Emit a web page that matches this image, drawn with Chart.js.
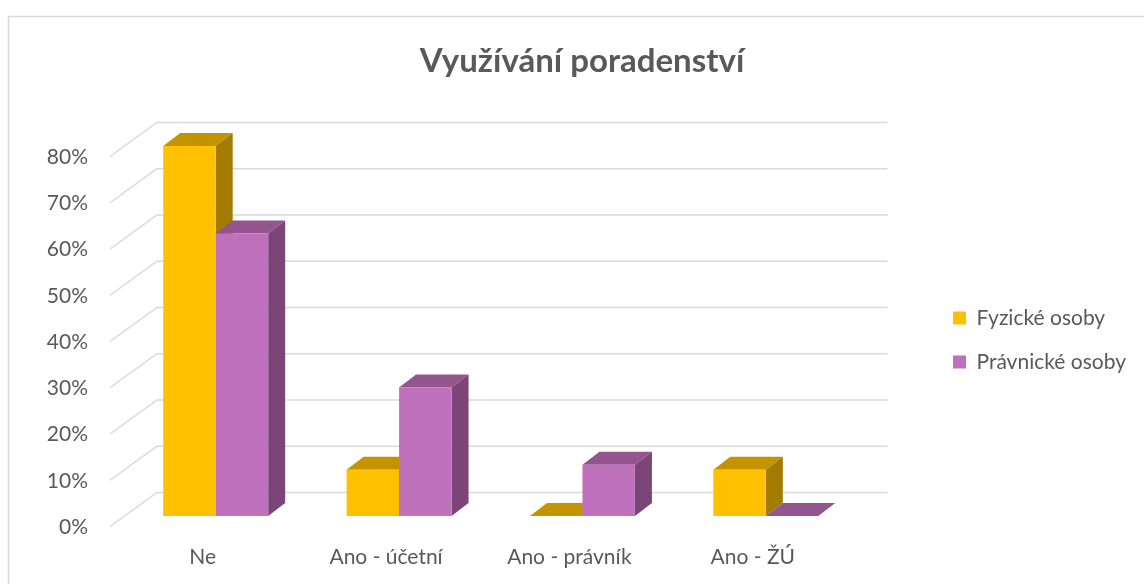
<!DOCTYPE html>
<html>
<head>
<meta charset="utf-8">
<script src="https://cdn.jsdelivr.net/npm/chart.js@4.4.0/dist/chart.umd.min.js"></script>
<style>
    html, body { margin: 0; padding: 0; background: #fff; }
</style>
</head>
<body>
<canvas id="poradenstviChart" width="1144" height="584"></canvas>
<script>
const categories = ['Ne', 'Ano - účetní', 'Ano - právník', 'Ano - ŽÚ'];
const seriesNames = ['Fyzické osoby', 'Právnické osoby'];
const fyzickeOsoby = [0.8, 0.1, 0, 0.1];
const pravnickeOsoby = [0.611, 0.278, 0.111, 0];
const yTickLabels = ['0%', '10%', '20%', '30%', '40%', '50%', '60%', '70%', '80%'];
const chartTitle = 'Využívání poradenství';

const frontColors = ['#FFC000', '#C071BB'];
const topColors = ['#C49400', '#94558F'];
const sideColors = ['#A37B00', '#7B4677'];
const textColor = '#595959';
const gridColor = '#D9D9D9';

// depth of the bars and of the back wall (px)
const BAR_DX = 17, BAR_DY = 13;
const FRONT_DX = -14, FRONT_DY = 10.5;
const WALL_DX = 33, WALL_DY = -23.5, WALL_END = 30;
const LEGEND_X = 953, LEGEND_Y = 307.5;

function fillPoly(ctx, pts) {
    ctx.beginPath();
    ctx.moveTo(pts[0][0], pts[0][1]);
    for (let i = 1; i < pts.length; i++) ctx.lineTo(pts[i][0], pts[i][1]);
    ctx.closePath();
    ctx.fill();
}

const frame = {
    id: 'frame',
    beforeDraw(chart) {
        const ctx = chart.ctx;
        ctx.save();
        ctx.strokeStyle = gridColor;
        ctx.lineWidth = 1.5;
        ctx.strokeRect(8.5, 16.5, 2000, 2000);
        ctx.restore();
    },
};

const bars3d = {
    id: 'bars3d',
    beforeInit(chart) {
        // legend keeps a fixed width; items are drawn at a fixed spot
        const legend = chart.legend;
        const fit = legend.fit;
        legend.fit = function () {
            fit.call(this);
            this.width = 286.5;
        };
        const draw = legend.draw;
        legend.draw = function () {
            const left = this.left, top = this.top;
            const pad = this.options.labels.padding;
            this.left = LEGEND_X - pad;
            this.top = LEGEND_Y - pad;
            draw.call(this);
            this.left = left;
            this.top = top;
        };
    },
    beforeDatasetsDraw(chart) {
        const ctx = chart.ctx;
        const y = chart.scales.y;
        const area = chart.chartArea;
        ctx.save();
        ctx.strokeStyle = gridColor;
        ctx.lineWidth = 1.5;
        y.ticks.forEach((t) => {
            const py = y.getPixelForValue(t.value);
            ctx.beginPath();
            ctx.moveTo(area.left + FRONT_DX, py + FRONT_DY);
            ctx.lineTo(area.left + WALL_DX, py + WALL_DY);
            ctx.lineTo(area.right + WALL_END, py + WALL_DY);
            ctx.stroke();
        });
        chart.data.datasets.forEach((ds, di) => {
            chart.getDatasetMeta(di).data.forEach((bar) => {
                const l = bar.x - bar.width / 2;
                const r = bar.x + bar.width / 2;
                const t = bar.y;
                const b = bar.base;
                ctx.fillStyle = topColors[di];
                fillPoly(ctx, [[l, t], [r, t], [r + BAR_DX, t - BAR_DY], [l + BAR_DX, t - BAR_DY]]);
                ctx.fillStyle = sideColors[di];
                fillPoly(ctx, [[r, t], [r + BAR_DX, t - BAR_DY], [r + BAR_DX, b - BAR_DY], [r, b]]);
            });
        });
        ctx.restore();
    },
};

const fontFamily = 'Lato, "Open Sans", sans-serif';

new Chart(document.getElementById('poradenstviChart').getContext('2d'), {
    type: 'bar',
    data: {
        labels: categories,
        datasets: [
            {
                label: seriesNames[0],
                data: fyzickeOsoby,
                backgroundColor: frontColors[0],
                borderWidth: 0,
            },
            {
                label: seriesNames[1],
                data: pravnickeOsoby,
                backgroundColor: frontColors[1],
                borderWidth: 0,
            },
        ],
    },
    options: {
        responsive: false,
        animation: false,
        devicePixelRatio: 1,
        categoryPercentage: 0.5725,
        barPercentage: 1,
        layout: { padding: { left: 20, right: 0, top: 0, bottom: 8 } },
        plugins: {
            title: {
                display: true,
                text: chartTitle,
                color: textColor,
                font: { family: fontFamily, size: 33, weight: 'bold', lineHeight: 1.2 },
                padding: { top: 42, bottom: 64.4 },
            },
            legend: {
                position: 'right',
                align: 'start',
                labels: {
                    boxWidth: 13,
                    boxHeight: 13,
                    padding: 23,
                    color: textColor,
                    font: { family: fontFamily, size: 21, lineHeight: 1 },
                },
            },
            tooltip: { enabled: false },
        },
        scales: {
            x: {
                grid: { display: false, drawTicks: false },
                border: { display: false },
                ticks: {
                    color: textColor,
                    font: { family: fontFamily, size: 21 },
                    padding: 29,
                    labelOffset: -13,
                    maxRotation: 0,
                },
                afterFit(scale) {
                    scale.height = 60;
                },
            },
            y: {
                min: 0,
                max: 0.8,
                grid: { display: false, drawTicks: false },
                border: { display: false },
                ticks: {
                    stepSize: 0.1,
                    color: textColor,
                    font: { family: fontFamily, size: 21 },
                    padding: 36,
                    labelOffset: 11,
                    callback: (v, i) => yTickLabels[i],
                },
                afterFit(scale) {
                    scale.width = 104;
                },
            },
        },
    },
    plugins: [frame, bars3d],
});
</script>
</body>
</html>
